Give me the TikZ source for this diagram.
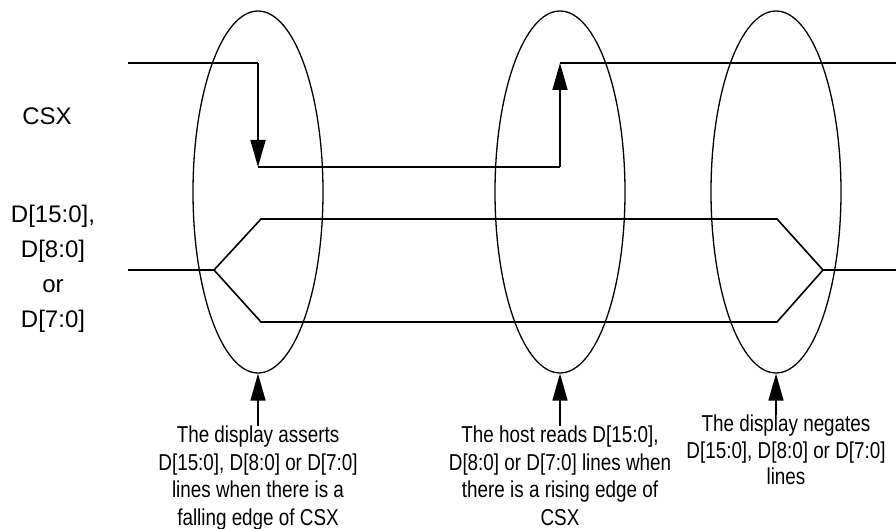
\documentclass[tikz,border=0pt]{standalone}
\usepackage{fontspec}
\setmainfont{Liberation Sans}
\newfontfamily\notefont{Liberation Sans}[FakeStretch=0.82]
\usetikzlibrary{arrows.meta,shapes.geometric}
\tikzset{
  sig/.style={line width=1.6pt},
  edge/.style={sig,-{Triangle[length=27pt,width=15pt]}},
  window/.style={draw,ellipse,line width=1.3pt,minimum width=130pt,minimum height=362pt,inner sep=0pt},
  label/.style={inner sep=0pt,font=\fontsize{24}{35}\selectfont},
  note/.style={anchor=north,align=center,inner sep=0pt,font=\notefont\fontsize{23}{27.5}\selectfont},
}
\begin{document}
\begin{tikzpicture}[x=1pt,y=-1pt]
                \useasboundingbox (0,0) rectangle (896,529);
                \node[window] (sel1) at (258,192) {};
                \node[window] (sel2) at (560,192) {};
                \node[window] (sel3) at (776,192) {};
                \node[label,anchor=base] (csx) at (47,125) {CSX};
                \node[label,anchor=north,align=center] (data) at (53,205) {D[15:0],\\D[8:0]\\or\\D[7:0]};

                \coordinate (fallhi) at (258,63); \coordinate (falllo) at (258,167);
                \coordinate (riselo) at (560,167); \coordinate (risehi) at (560,63);
                \draw[sig] (128,63) -- (fallhi); \draw[edge] (fallhi) -- (falllo);
                \draw[sig] (falllo) -- (riselo); \draw[edge] (riselo) -- (risehi);
                \draw[sig] (risehi) -- (896,63);

                \draw[sig] (128,270) -- (214,270) -- (261,219) -- (777,219) -- (823,270) -- (896,270);
                \draw[sig] (214,270) -- (261,322) -- (777,322) -- (823,270);

                \node[note] (note1) at (258,426) {The display asserts\\D[15:0], D[8:0] or D[7:0]\\lines when there is a\\falling edge of CSX};
                \node[note] (note2) at (560,426) {The host reads D[15:0],\\D[8:0] or D[7:0] lines when\\there is a rising edge of\\CSX};
                \node[note,font=\notefont\fontsize{23}{26.5}\selectfont] (note3) at (786,415) {The display negates\\D[15:0], D[8:0] or D[7:0]\\lines};
                \draw[edge] (note1.north) -- (sel1.south); \draw[edge] (note2.north) -- (sel2.south);
                \draw[edge] (note3.north -| sel3.south) -- (sel3.south);
\end{tikzpicture}
\end{document}
